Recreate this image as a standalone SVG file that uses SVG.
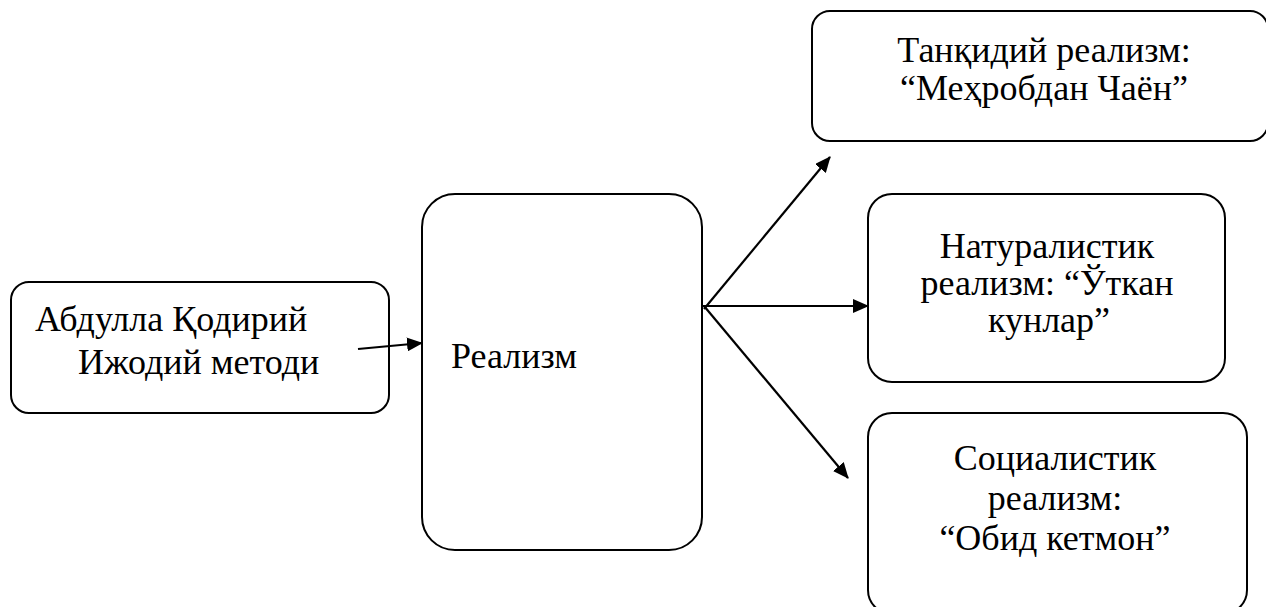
<svg xmlns="http://www.w3.org/2000/svg" width="1266" height="607" viewBox="0 0 1266 607">
<style>
.box{fill:#fff;stroke:#000;stroke-width:2}
.t{font-family:'Liberation Serif','Times New Roman','DejaVu Serif',serif;font-size:36px;fill:#000}
.c{text-anchor:middle}
.con{stroke:#000;stroke-width:2.2;fill:none}
</style>
<defs>
<marker id="ah" markerUnits="userSpaceOnUse" markerWidth="16" markerHeight="14" refX="15" refY="7" orient="auto">
<path d="M0,0 L16,7 L0,14 z" fill="#000"/>
</marker>
</defs>
<rect width="1266" height="607" fill="#fff"/>
<g id="node-source">
<rect class="box" x="11" y="282" width="378" height="131" rx="18"/>
<text class="t" font-family="Liberation Serif, serif" x="35" y="331">Абдулла Қодирий</text>
<text class="t" font-family="Liberation Serif, serif" x="78" y="374">Ижодий методи</text>
</g>
<g id="node-realism">
<rect class="box" x="422" y="194" width="280" height="356" rx="33"/>
<text class="t" x="451" y="368">Реализм</text>
</g>
<g id="node-critical">
<rect class="box" x="812" y="11" width="456" height="130" rx="18"/>
<text class="t c" x="1044" y="62">Танқидий реализм:</text>
<text class="t c" x="1044" y="100">“Меҳробдан Чаён”</text>
</g>
<g id="node-naturalistic">
<rect class="box" x="868" y="194" width="357" height="188" rx="24"/>
<text class="t c" x="1047" y="258">Натуралистик</text>
<text class="t c" x="1047" y="295">реализм: “Ўткан</text>
<text class="t c" x="1049" y="332">кунлар”</text>
</g>
<g id="node-socialist">
<rect class="box" x="868" y="413" width="379" height="201" rx="24"/>
<text class="t c" x="1055" y="470">Социалистик</text>
<text class="t c" x="1055" y="510">реализм:</text>
<text class="t c" x="1055" y="550">“Обид кетмон”</text>
</g>
<g id="connectors">
<line class="con" x1="358" y1="349" x2="422" y2="343" marker-end="url(#ah)"/>
<line class="con" x1="704" y1="309" x2="830" y2="157" marker-end="url(#ah)"/>
<line class="con" x1="701" y1="306" x2="868" y2="306" marker-end="url(#ah)"/>
<line class="con" x1="704" y1="306" x2="848" y2="478" marker-end="url(#ah)"/>
</g>
</svg>
